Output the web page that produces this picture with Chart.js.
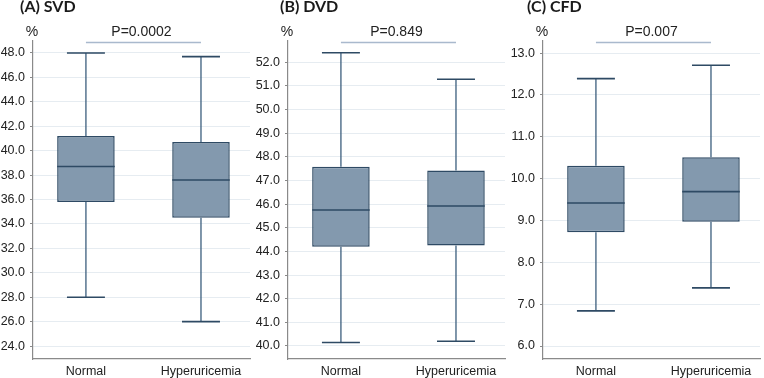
<!DOCTYPE html>
<html>
<head>
<meta charset="utf-8">
<script src="https://cdn.jsdelivr.net/npm/chart.js@4/dist/chart.umd.min.js"></script>
<style>
  html, body { margin: 0; padding: 0; background: #fff; }
  #wrap { position: relative; width: 764px; height: 378px; overflow: hidden; }
  .panel { position: absolute; top: 0; width: 254px; height: 378px; }
</style>
</head>
<body>
<div id="wrap">
  <div class="panel" style="left:0px"><canvas id="chartA"></canvas></div>
  <div class="panel" style="left:255px"><canvas id="chartB"></canvas></div>
  <div class="panel" style="left:510px"><canvas id="chartC"></canvas></div>
</div>
<script>
// groups on the x axis
const categories = ["Normal", "Hyperuricemia"];

// (A) SVD, %
const svdMin = [28.0, 26.0];
const svdQ1 = [35.8, 34.5];
const svdMedian = [38.7, 37.6];
const svdQ3 = [41.2, 40.7];
const svdMax = [48.0, 47.7];
const svdTicks = [24, 26, 28, 30, 32, 34, 36, 38, 40, 42, 44, 46, 48];

// (B) DVD, %
const dvdMin = [40.15, 40.2];
const dvdQ1 = [44.2, 44.25];
const dvdMedian = [45.75, 45.92];
const dvdQ3 = [47.58, 47.42];
const dvdMax = [52.4, 51.28];
const dvdTicks = [40, 41, 42, 43, 44, 45, 46, 47, 48, 49, 50, 51, 52];

// (C) CFD, %
const cfdMin = [6.84, 7.39];
const cfdQ1 = [8.72, 8.97];
const cfdMedian = [9.42, 9.69];
const cfdQ3 = [10.31, 10.51];
const cfdMax = [12.39, 12.71];
const cfdTicks = [6, 7, 8, 9, 10, 11, 12, 13];

const titles = ["(A) SVD", "(B) DVD", "(C) CFD"];
const pValues = ["P=0.0002", "P=0.849", "P=0.007"];

const BOX_FILL = "#8399ae";
const BOX_EDGE = "#2e4a64";
const WHISKER = "#3d5f7e";
const GRID = "#e6ecf1";
const AXIS = "#8a8a8a";
const FONT = "Liberation Sans";

// whiskers, caps, medians, p-value bracket and labels
const boxExtras = {
  id: "boxExtras",
  afterDatasetsDraw(chart, args, opts) {
    const { ctx, chartArea } = chart;
    const xs = chart.scales.x;
    const ys = chart.scales.y;
    ctx.save();
    ctx.lineCap = "butt";
    opts.min.forEach((lo, i) => {
      const cx = xs.getPixelForValue(i + 1);
      const capL = xs.getPixelForValue(i + 1 - 0.165);
      const capR = xs.getPixelForValue(i + 1 + 0.165);
      const boxL = xs.getPixelForValue(i + 1 - 0.25);
      const boxR = xs.getPixelForValue(i + 1 + 0.25);
      ctx.strokeStyle = WHISKER;
      ctx.lineWidth = 1.3;
      ctx.beginPath();
      ctx.moveTo(cx, ys.getPixelForValue(opts.max[i]));
      ctx.lineTo(cx, ys.getPixelForValue(opts.q3[i]));
      ctx.moveTo(cx, ys.getPixelForValue(opts.q1[i]));
      ctx.lineTo(cx, ys.getPixelForValue(lo));
      ctx.stroke();
      ctx.strokeStyle = BOX_EDGE;
      ctx.lineWidth = 1.6;
      ctx.beginPath();
      ctx.moveTo(capL, ys.getPixelForValue(opts.max[i]));
      ctx.lineTo(capR, ys.getPixelForValue(opts.max[i]));
      ctx.moveTo(capL, ys.getPixelForValue(lo));
      ctx.lineTo(capR, ys.getPixelForValue(lo));
      ctx.moveTo(boxL, ys.getPixelForValue(opts.median[i]));
      ctx.lineTo(boxR, ys.getPixelForValue(opts.median[i]));
      ctx.stroke();
    });

    // bracket with p-value
    const x1 = xs.getPixelForValue(1);
    const x2 = xs.getPixelForValue(2);
    const by = chartArea.top + 1.5;
    ctx.strokeStyle = "#a9b9cd";
    ctx.lineWidth = 1.4;
    ctx.beginPath();
    ctx.moveTo(x1, by);
    ctx.lineTo(x2, by);
    ctx.stroke();
    ctx.fillStyle = "#222";
    ctx.font = "14px 'Liberation Sans', sans-serif";
    ctx.textAlign = "center";
    ctx.textBaseline = "middle";
    ctx.fillText(opts.p, (x1 + x2) / 2 - 2, 32);
    ctx.fillText("%", chartArea.left - 1, 32);

    // panel title
    ctx.font = "bold 16px Lato, 'Liberation Sans', sans-serif";
    ctx.textAlign = "left";
    ctx.fillStyle = "#1a1a1a";
    ctx.fillText(opts.title, opts.titleX, 7);
    ctx.restore();
  }
};

function makeBoxChart(id, idx, mins, q1, med, q3, maxs, ticks, yMin, yMax, titleX) {
  const boxes = categories.map((c, i) => ({ x: i + 1, y: [q1[i], q3[i]] }));
  return new Chart(document.getElementById(id), {
    type: "bar",
    data: {
      datasets: [{
        data: boxes,
        backgroundColor: BOX_FILL,
        borderColor: BOX_EDGE,
        borderWidth: 1.5,
        borderSkipped: false,
        barPercentage: 0.5,
        categoryPercentage: 1
      }]
    },
    options: {
      responsive: false,
      animation: false,
      layout: { padding: { top: 41, right: 4, left: 0, bottom: 0 } },
      plugins: {
        legend: { display: false },
        tooltip: { enabled: false },
        boxExtras: { min: mins, q1: q1, median: med, q3: q3, max: maxs, p: pValues[idx], title: titles[idx], titleX: titleX }
      },
      scales: {
        x: {
          type: "linear",
          offset: false,
          min: 0.54,
          max: 2.426,
          afterBuildTicks: (s) => { s.ticks = categories.map((c, i) => ({ value: i + 1 })); },
          afterFit: (s) => { s.height = 19; },
          ticks: {
            callback: (v) => categories[v - 1] || "",
            color: "#222",
            font: { family: FONT, size: 12.5 },
            padding: 5,
            maxRotation: 0,
            autoSkip: false
          },
          grid: { display: false, drawTicks: false, offset: false },
          border: { display: true, color: AXIS, width: 1.2 }
        },
        y: {
          min: yMin,
          max: yMax,
          afterBuildTicks: (s) => { s.ticks = ticks.map(v => ({ value: v })); },
          afterFit: (s) => { s.width = 33; },
          ticks: {
            callback: (v) => v.toFixed(1),
            color: "#222",
            font: { family: FONT, size: 12.5 },
            padding: 5
          },
          grid: { color: GRID, lineWidth: 1, tickLength: 3, tickColor: AXIS },
          border: { display: true, color: AXIS, width: 1.2 }
        }
      }
    },
    plugins: [boxExtras]
  });
}

document.querySelectorAll("canvas").forEach(c => { c.width = 254; c.height = 378; });
makeBoxChart("chartA", 0, svdMin, svdQ1, svdMedian, svdQ3, svdMax, svdTicks, 22.94, 48.98, 20);
makeBoxChart("chartB", 1, dvdMin, dvdQ1, dvdMedian, dvdQ3, dvdMax, dvdTicks, 39.45, 52.9, 25);
makeBoxChart("chartC", 2, cfdMin, cfdQ1, cfdMedian, cfdQ3, cfdMax, cfdTicks, 5.69, 13.29, 17);
</script>
</body>
</html>
